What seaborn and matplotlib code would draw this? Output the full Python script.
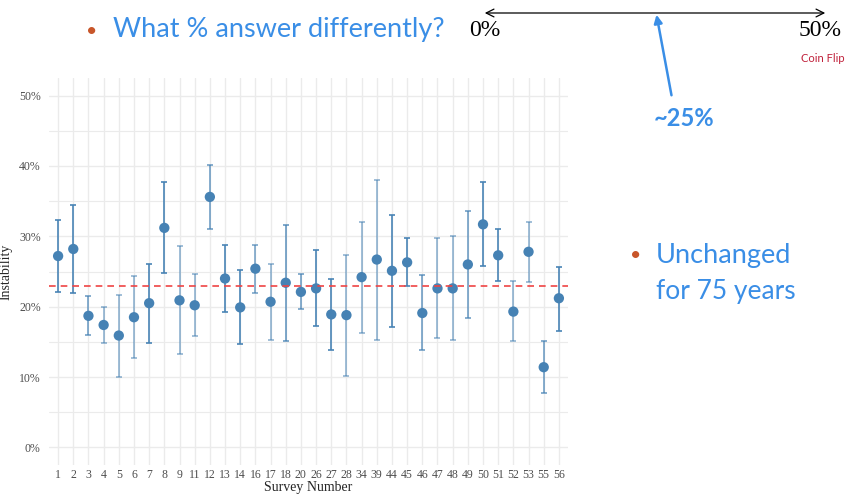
import pandas as pd
import seaborn as sns
import matplotlib.pyplot as plt
import numpy as np

# Survey data (instability in %)
surveys = ['1', '2', '3', '4', '5', '6', '7', '8', '9', '11', '12', '13', '14', '16',
           '17', '18', '20', '26', '27', '28', '34', '39', '44', '45', '46', '47',
           '48', '49', '50', '51', '52', '53', '55', '56']
instability = [27.2, 28.2, 18.7, 17.4, 15.9, 18.5, 20.5, 31.2, 20.9, 20.2, 35.6, 24.0,
               19.9, 25.4, 20.7, 23.4, 22.1, 22.6, 18.9, 18.8, 24.2, 26.7, 25.1, 26.3,
               19.1, 22.6, 22.6, 26.0, 31.7, 27.3, 19.3, 27.8, 11.4, 21.2]
lower = [22.1, 22.0, 16.0, 14.8, 10.0, 12.7, 14.9, 24.8, 13.3, 15.8, 31.1, 19.3,
         14.7, 22.0, 15.2, 15.1, 19.6, 17.2, 13.8, 10.1, 16.3, 15.3, 17.1, 23.0,
         13.8, 15.6, 15.3, 18.4, 25.8, 23.6, 15.1, 23.5, 7.8, 16.6]
upper = [32.3, 34.5, 21.5, 20.0, 21.7, 24.3, 26.1, 37.7, 28.6, 24.6, 40.1, 28.7,
         25.2, 28.7, 26.1, 31.6, 24.6, 28.1, 24.0, 27.4, 32.0, 38.0, 33.0, 29.7,
         24.5, 29.7, 30.0, 33.6, 37.7, 31.0, 23.6, 32.1, 15.1, 25.7]
# bar opacity as it appears in the picture
weight = [0.9, 0.9, 0.7, 0.55, 0.55, 0.55, 0.9, 0.9, 0.55, 0.55, 0.7, 0.9,
          0.9, 0.65, 0.55, 0.75, 0.7, 0.9, 0.9, 0.55, 0.55, 0.55, 0.9, 0.9,
          0.7, 0.55, 0.55, 0.7, 0.9, 0.9, 0.55, 0.55, 0.7, 0.9]
mean_line = 23.0

df = pd.DataFrame({'survey': surveys, 'instability': instability,
                   'lower': lower, 'upper': upper, 'weight': weight})

sns.set_theme(style="whitegrid")
plt.rcParams['font.family'] = ['Liberation Serif', 'DejaVu Serif']

W, H = 853, 494
fig = plt.figure(figsize=(W / 100, H / 100), dpi=100)
ax = fig.add_axes([49 / W, 29 / H, (568 - 49) / W, (465 - 78) / H])

blue = '#4682b4'
x = np.arange(len(df))
for i, row in df.iterrows():
    ax.errorbar(i, row['instability'],
                yerr=[[row['instability'] - row['lower']], [row['upper'] - row['instability']]],
                fmt='none', ecolor=blue, alpha=row['weight'], elinewidth=1.3,
                capsize=2, capthick=1.3, zorder=2)

sns.scatterplot(data=df, x=x, y='instability', color=blue, s=55,
                edgecolor='none', ax=ax, zorder=3, legend=False)

ax.axhline(mean_line, color='#ef4444', ls=(0, (4, 3)), lw=1.2, zorder=4)

ax.set_xlim(-0.6, len(df) - 0.4)
ax.set_ylim(-2.5, 52.5)
ax.set_xticks(x)
ax.set_xticklabels(surveys)
ax.set_yticks(np.arange(0, 51, 10))
ax.set_yticklabels([f'{v}%' for v in range(0, 51, 10)])
ax.set_yticks(np.arange(5, 50, 10), minor=True)

ax.grid(True, which='major', color='#ebebeb', lw=1.0)
ax.grid(True, which='minor', axis='y', color='#ebebeb', lw=0.8)
for s in ax.spines.values():
    s.set_visible(False)
ax.set_facecolor('white')
ax.tick_params(axis='both', which='both', length=0, labelsize=8.5,
               labelcolor='#4d4d4d')
ax.tick_params(axis='x', pad=3)
ax.tick_params(axis='y', pad=6)
ax.set_xlabel('Survey Number', fontsize=10, labelpad=0)
ax.set_ylabel('Instability', fontsize=10)
ax.yaxis.set_label_coords(-0.071, 0.5)

# Slide annotations
def fx(px):
    return px / W

def fy(py):
    return 1 - py / H

sans = ['Lato', 'DejaVu Sans']
tblue = '#3a8ee6'
orange = '#c8562a'
fig.text(fx(92), fy(31), '•', color=orange, fontsize=14, family=sans, ha='center', va='center')
fig.text(fx(113), fy(30), 'What % answer differently?', color=tblue, fontsize=19.5,
         family=sans, ha='left', va='center')
fig.text(fx(485), fy(31), '0%', color='black', fontsize=17, ha='center', va='center')
fig.text(fx(820), fy(31), '50%', color='black', fontsize=17, ha='center', va='center')
fig.text(fx(823), fy(58), 'Coin Flip', color='#c0203a', fontsize=8, family=sans,
         ha='center', va='center')
ax.annotate('', xy=(482, H - 13), xytext=(828, H - 13), xycoords='figure pixels',
            textcoords='figure pixels', annotation_clip=False,
            arrowprops=dict(arrowstyle='<->', color='black', lw=0.9, mutation_scale=14))
ax.annotate('', xy=(656, H - 12), xytext=(672, H - 98), xycoords='figure pixels',
            textcoords='figure pixels', annotation_clip=False,
            arrowprops=dict(arrowstyle='-|>', color=tblue, lw=1.8, mutation_scale=12))
fig.text(fx(684), fy(119), '~25%', color=tblue, fontsize=17, fontweight='bold',
         family=sans, ha='center', va='center')
fig.text(fx(636), fy(255), '•', color=orange, fontsize=14, family=sans, ha='center', va='center')
fig.text(fx(656), fy(255), 'Unchanged', color=tblue, fontsize=19.5, family=sans,
         ha='left', va='center')
fig.text(fx(656), fy(291), 'for 75 years', color=tblue, fontsize=19, family=sans,
         ha='left', va='center')

fig.savefig('out.png', dpi=100)
